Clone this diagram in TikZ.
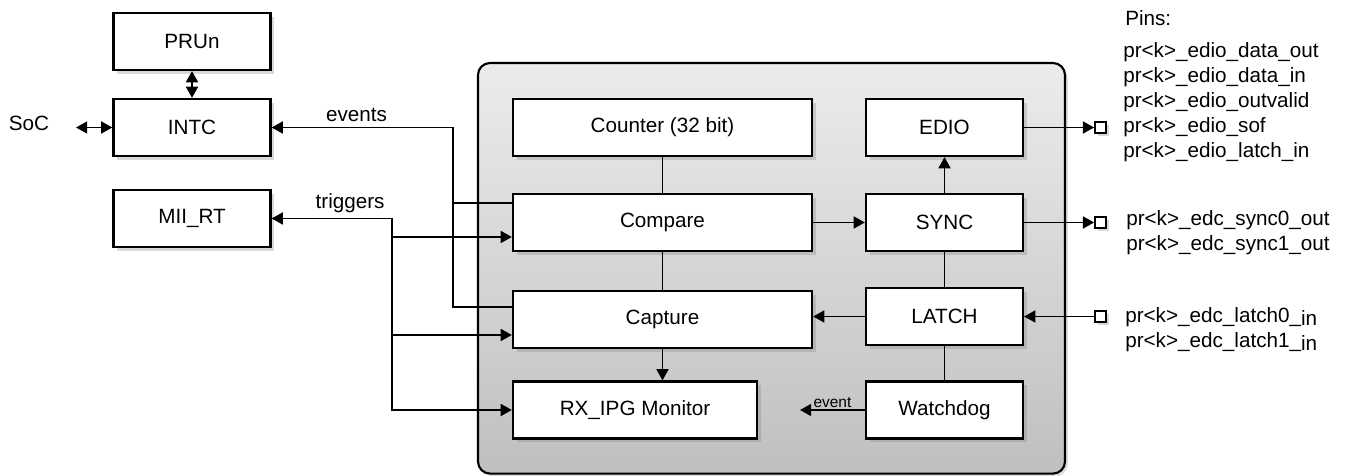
\documentclass[tikz,border=0pt]{standalone}
\usepackage{fontspec}
\setmainfont{Liberation Sans}
\usetikzlibrary{arrows.meta, positioning, shadows}

\begin{document}
\begin{tikzpicture}[
    every node/.style={font=\fontsize{14.7}{17.8}\selectfont},
    block/.style={draw, line width=1.6pt, fill=white, minimum width=3.925cm, minimum height=1.425cm,
        drop shadow={shadow xshift=2.5pt, shadow yshift=-2.5pt, opacity=0.3}},
    arrow/.style={-{Triangle[length=0.28cm, width=0.3cm]}, line width=1.25pt},
    dblarrow/.style={{Triangle[length=0.28cm, width=0.3cm]}-{Triangle[length=0.28cm, width=0.3cm]}, line width=1.25pt},
    wire/.style={line width=1.25pt},
    pin/.style={draw, line width=1.25pt, fill=white, minimum size=0.275cm, inner sep=0pt,
        drop shadow={shadow xshift=2pt, shadow yshift=-2pt, opacity=0.3}},
    pinlist/.style={align=left, anchor=west, inner sep=0pt}
]
\useasboundingbox (0, 0) rectangle (33.675, 11.9);

% ============ PRU-ICSS IEP CONTAINER ============
\draw[rounded corners=0.3cm, line width=1.5pt, top color=gray!15, bottom color=gray!50,
    drop shadow={shadow xshift=2pt, shadow yshift=-2pt, opacity=0.25}]
    (11.95, 0.06) rectangle (26.625, 10.325);

% ============ OUTSIDE BLOCKS ============
\node[block] (prun) at (4.8, 10.8625) {PRUn};
\node[block] (intc) at (4.8, 8.7125) {INTC};
\node[block] (miirt) at (4.8, 6.4375) {MII\_RT};
\node (soc) at (0.725, 8.825) {SoC};

% ============ INSIDE BLOCKS ============
\node[block, minimum width=7.475cm] (counter) at (16.5625, 8.7125) {Counter (32 bit)};
\node[block, minimum width=7.475cm] (compare) at (16.5625, 6.3375) {Compare};
\node[block, minimum width=7.475cm] (capture) at (16.5625, 3.9125) {Capture};
\node[block, minimum width=6.1cm] (rxipg) at (15.875, 1.65) {RX\_IPG Monitor};

\node[block] (edio) at (23.6125, 8.7125) {EDIO};
\node[block] (sync) at (23.6125, 6.3375) {SYNC};
\node[block] (latch) at (23.6125, 3.9875) {LATCH};
\node[block] (wdog) at (23.6125, 1.65) {Watchdog};

% ============ PINS ============
\node[pin] (pinedio) at (27.5125, 8.7125) {};
\node[pin] (pinsync) at (27.5125, 6.3375) {};
\node[pin] (pinlatch) at (27.5125, 3.9875) {};

\node[pinlist] (pinstitle) at (28.125, 11.45) {Pins:};
\node[pinlist] (ediopins) at (28.075, 9.35) {
    pr<k>\_edio\_data\_out\\
    pr<k>\_edio\_data\_in\\
    pr<k>\_edio\_outvalid\\
    pr<k>\_edio\_sof\\
    pr<k>\_edio\_latch\_in
};
\node[pinlist] (syncpins) at (28.15, 6.0875) {
    pr<k>\_edc\_sync0\_out\\
    pr<k>\_edc\_sync1\_out
};
\node[pinlist] (latchpins) at (28.125, 3.6625) {
    pr<k>\_edc\_latch0\_\raisebox{-2pt}{in}\\
    pr<k>\_edc\_latch1\_\raisebox{-2pt}{in}
};

% ============ CONNECTIONS ============
\coordinate (socend) at (1.9, 8.7125);
\draw[dblarrow] (socend) -- (intc.west);
\draw[dblarrow] (prun) -- (intc);

% events bus
\coordinate (evtop) at (11.325, 8.7125);
\draw[arrow] (evtop) -- node[above, pos=0.532] (evlbl) {events} (intc.east);
\draw[wire] (evtop) |- ([yshift=4.875mm]compare.west);
\draw[wire] (evtop) |- ([yshift=3.125mm]capture.west);

% triggers bus
\coordinate (trtop) at (9.8, 6.4375);
\draw[arrow] (trtop) -- node[above, pos=0.348] (trlbl) {triggers} (miirt.east);
\draw[arrow] (trtop) |- ([yshift=-3.625mm]compare.west);
\draw[arrow] (trtop) |- ([yshift=-3.875mm]capture.west);
\draw[arrow] (trtop) |- (rxipg.west);

% inside
\draw[wire] (counter) -- (compare);
\draw[wire] (compare) -- (capture);
\draw[arrow] (capture.south) -- (capture.south |- rxipg.north);
\draw[arrow] (compare) -- (sync);
\draw[arrow] (sync) -- (edio);
\draw[wire] (sync) -- (latch);
\draw[wire] (latch) -- (wdog);
\draw[arrow] (latch.west) -- (latch.west -| capture.east);
\coordinate (evend) at (20.0, 1.65);
\draw[arrow] (wdog.west) -- node[above, inner sep=1pt, font=\fontsize{11}{13}\selectfont] (wdlbl) {event} (evend);

% pins
\draw[arrow] (edio) -- (pinedio);
\draw[arrow] (sync) -- (pinsync);
\draw[arrow] (pinlatch) -- (latch);

\end{tikzpicture}
\end{document}
